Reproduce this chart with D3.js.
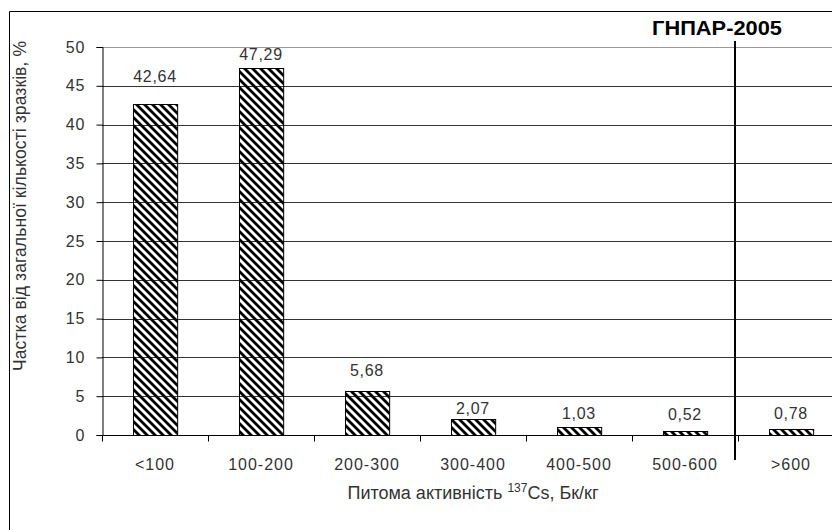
<!DOCTYPE html>
<html>
<head>
<meta charset="utf-8">
<script src="https://cdn.jsdelivr.net/npm/d3@7/dist/d3.min.js"></script>
<style>
  body { margin: 0; background: #fff; }
  svg { display: block; font-family: "Liberation Sans", Arial, sans-serif; }
</style>
</head>
<body>
<div class="container"></div>
<script>
// Data
const categories = ["<100", "100-200", "200-300", "300-400", "400-500", "500-600", ">600"];
const shares = [42.64, 47.29, 5.68, 2.07, 1.03, 0.52, 0.78];
const valueLabels = ["42,64", "47,29", "5,68", "2,07", "1,03", "0,52", "0,78"];
const yTicks = [0, 5, 10, 15, 20, 25, 30, 35, 40, 45, 50];
const normCategory = ">600"; // ГНПАР-2005 limit sits before this group

const width = 832;
const height = 530;

// Plot area (runs past the right edge, as in the cropped original)
const plotLeft = 102, plotRight = 844, plotTop = 47, plotBottom = 435;

// labels were nudged by hand in the original, so lift differs per bar
const labelLift = [22, 8, 15, 5, 8, 11, 10];

const textColor = "#333";

const svg = d3.select(".container")
    .append("svg")
    .attr("width", width)
    .attr("height", height);

// hatch fill: black backslash stripes
const defs = svg.append("defs");
defs.append("pattern")
    .attr("id", "hatch")
    .attr("patternUnits", "userSpaceOnUse")
    .attr("width", 8)
    .attr("height", 8)
    .append("path")
    .attr("d", "M-2,-2L10,10M-2,6L2,10M6,-2L10,2")
    .attr("stroke", "#000")
    .attr("stroke-width", 2.8);

// outer frame
svg.append("path")
    .attr("d", `M9.5,${height}V11.5H${width}`)
    .attr("fill", "none")
    .attr("stroke", "#000");

const x = d3.scaleBand()
    .domain(categories)
    .range([plotLeft, plotRight])
    .padding(0);

const y = d3.scaleLinear()
    .domain([0, 50])
    .range([plotBottom, plotTop]);

// gridlines
svg.append("g")
    .selectAll("line")
    .data(yTicks.filter(d => d > 0))
    .join("line")
    .attr("x1", plotLeft)
    .attr("x2", width)
    .attr("y1", d => Math.round(y(d)) + 0.5)
    .attr("y2", d => Math.round(y(d)) + 0.5)
    .attr("stroke", d => d === 50 ? "#999" : "#333");

// bars
const barW = x.bandwidth() / 2.4;
svg.append("g")
    .selectAll("rect")
    .data(shares)
    .join("rect")
    .attr("x", (d, i) => Math.round(x(categories[i]) + (x.bandwidth() - barW) / 2) + 0.5)
    .attr("y", d => Math.round(y(d)) + 0.5)
    .attr("width", barW)
    .attr("height", d => Math.round(y(0)) - Math.round(y(d)))
    .attr("fill", "url(#hatch)")
    .attr("stroke", "#000")
    .attr("stroke-width", 1);

// value labels
svg.append("g")
    .selectAll("text")
    .data(shares)
    .join("text")
    .attr("x", (d, i) => x(categories[i]) + x.bandwidth() / 2)
    .attr("y", (d, i) => y(d) - labelLift[i])
    .attr("text-anchor", "middle")
    .attr("font-size", 16)
    .attr("letter-spacing", 0.7)
    .attr("fill", textColor)
    .text((d, i) => valueLabels[i]);

// y axis
const yAxis = svg.append("g")
    .attr("transform", `translate(${plotLeft + 0.5},0)`)
    .call(d3.axisLeft(y).tickValues(yTicks).tickSize(6).tickPadding(11).tickFormat(d3.format("d")));
yAxis.select(".domain").attr("stroke", "#000");
yAxis.selectAll(".tick line").attr("stroke", "#000");
yAxis.selectAll(".tick text")
    .attr("font-size", 16)
    .attr("letter-spacing", 1)
    .attr("fill", textColor)
    .attr("font-family", "Liberation Sans, Arial, sans-serif");

// x axis: line plus ticks on group boundaries
const xAxis = svg.append("g")
    .attr("transform", `translate(0,${Math.round(y(0)) + 0.5})`);
xAxis.append("line")
    .attr("x1", plotLeft)
    .attr("x2", width)
    .attr("stroke", "#000");
xAxis.selectAll(".bnd")
    .data(categories)
    .join("line")
    .attr("class", "bnd")
    .attr("x1", d => x(d) + 0.5)
    .attr("x2", d => x(d) + 0.5)
    .attr("y1", 0)
    .attr("y2", 6)
    .attr("stroke", "#000");
xAxis.selectAll("text")
    .data(categories)
    .join("text")
    .attr("x", d => x(d) + x.bandwidth() / 2)
    .attr("y", 34)
    .attr("text-anchor", "middle")
    .attr("font-size", 16)
    .attr("letter-spacing", 1)
    .attr("fill", textColor)
    .text(d => d);

// norm line ГНПАР-2005
const normX = x(normCategory) - 3;
svg.append("line")
    .attr("x1", normX)
    .attr("x2", normX)
    .attr("y1", 41)
    .attr("y2", 460)
    .attr("stroke", "#000")
    .attr("stroke-width", 2);
svg.append("text")
    .attr("x", normX - 18)
    .attr("y", 35)
    .attr("text-anchor", "middle")
    .attr("font-size", 21)
    .attr("font-weight", "bold")
    .attr("textLength", 130)
    .attr("lengthAdjust", "spacingAndGlyphs")
    .text("ГНПАР-2005");

// axis titles
const xTitle = svg.append("text")
    .attr("x", (plotLeft + plotRight) / 2)
    .attr("y", 499)
    .attr("text-anchor", "middle")
    .attr("font-size", 18)
    .attr("fill", textColor);
xTitle.append("tspan").text("Питома активність ");
xTitle.append("tspan").attr("font-size", 12).attr("dy", -7).text("137");
xTitle.append("tspan").attr("dy", 7).text("Cs, Бк/кг");

svg.append("text")
    .attr("transform", "translate(26,206) rotate(-90)")
    .attr("text-anchor", "middle")
    .attr("font-size", 17.5)
    .attr("fill", textColor)
    .attr("textLength", 330)
    .attr("lengthAdjust", "spacing")
    .text("Частка від загальної кількості зразків, %");
</script>
</body>
</html>
